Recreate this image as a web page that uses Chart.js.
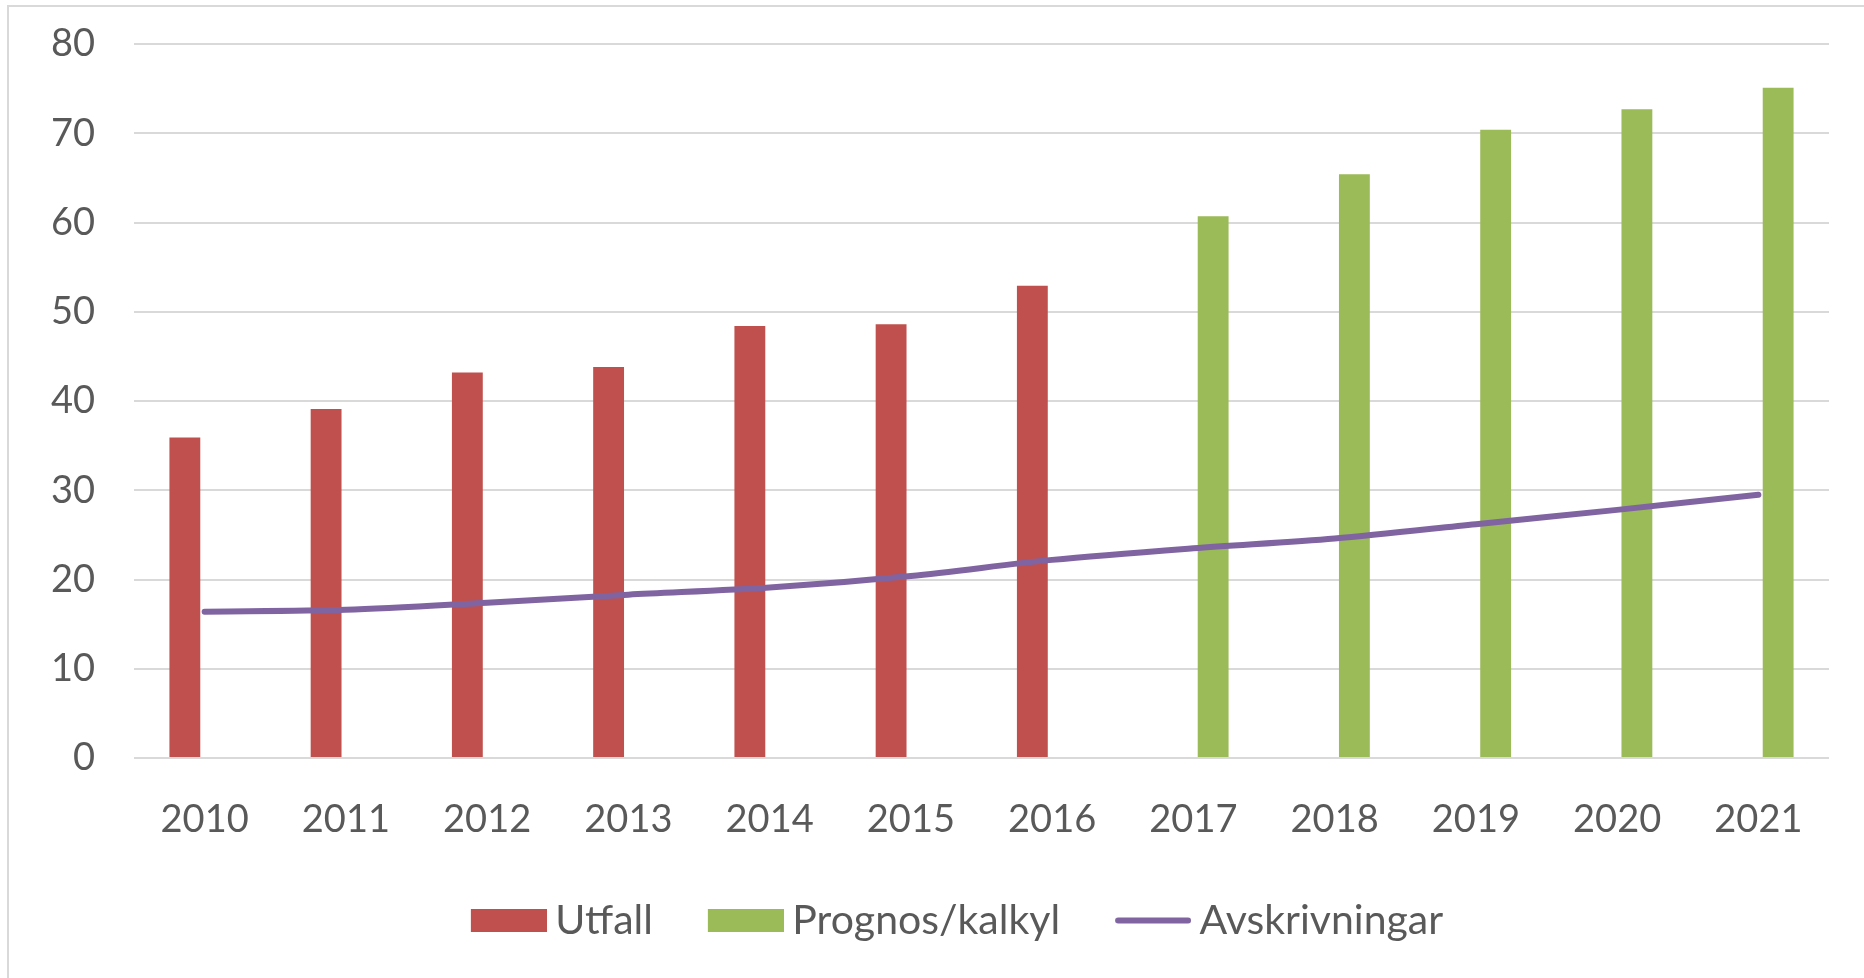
<!DOCTYPE html>
<html lang="sv">
<head>
    <meta charset="UTF-8">
    <title>Utfall och prognos</title>
    <script src="https://cdn.jsdelivr.net/npm/chart.js"></script>
    <style>
        html, body {
            margin: 0;
            padding: 0;
            background: #ffffff;
            overflow: hidden;
        }
        .ram {
            position: absolute;
            left: 7px;
            top: 5px;
            width: 1900px;
            height: 1000px;
            border-left: 2px solid #d9d9d9;
            border-top: 2px solid #d9d9d9;
        }
        #diagram {
            position: absolute;
            left: 0;
            top: 0;
        }
    </style>
</head>
<body>
    <div class="ram"></div>
    <canvas id="diagram" width="1864" height="978"></canvas>

    <script>
        // Data (läst ur diagrammet)
        var ar = ['2010', '2011', '2012', '2013', '2014', '2015', '2016', '2017', '2018', '2019', '2020', '2021'];
        var utfall = [35.9, 39.1, 43.2, 43.8, 48.4, 48.6, 52.9, null, null, null, null, null];
        var prognos = [null, null, null, null, null, null, null, 60.7, 65.4, 70.4, 72.7, 75.1];
        var avskrivningar = [16.4, 16.6, 17.4, 18.3, 19.1, 20.4, 22.2, 23.5, 24.6, 26.2, 27.8, 29.5];
        var yTicks = [0, 10, 20, 30, 40, 50, 60, 70, 80];

        var rod = '#c0504d';
        var gron = '#9bbb59';
        var lila = '#8064a2';
        var gra = '#595959';

        // Legendsymboler
        function ruta(farg) {
            var c = document.createElement('canvas');
            c.width = 88; c.height = 23;
            var g = c.getContext('2d');
            g.fillStyle = farg;
            g.fillRect(12, 0, 76, 23);
            return c;
        }
        function linje(farg) {
            var c = document.createElement('canvas');
            c.width = 88; c.height = 23;
            var g = c.getContext('2d');
            g.strokeStyle = farg;
            g.lineWidth = 6;
            g.lineCap = 'round';
            g.beginPath();
            g.moveTo(15, 11.5);
            g.lineTo(85, 11.5);
            g.stroke();
            return c;
        }
        var symboler = [ruta(rod), ruta(gron), linje(lila)];

        var ctx = document.getElementById('diagram').getContext('2d');
        var diagram = new Chart(ctx, {
            data: {
                labels: ar,
                datasets: [{
                    type: 'bar',
                    label: 'Utfall',
                    data: utfall,
                    backgroundColor: rod,
                    categoryPercentage: 0.56,
                    barPercentage: 0.78,
                    order: 1
                }, {
                    type: 'bar',
                    label: 'Prognos/kalkyl',
                    data: prognos,
                    backgroundColor: gron,
                    categoryPercentage: 0.56,
                    barPercentage: 0.78,
                    order: 1
                }, {
                    type: 'line',
                    label: 'Avskrivningar',
                    data: avskrivningar,
                    borderColor: lila,
                    backgroundColor: lila,
                    borderWidth: 6,
                    borderCapStyle: 'round',
                    tension: 0.3,
                    pointRadius: 0,
                    fill: false,
                    order: 0
                }]
            },
            options: {
                responsive: false,
                animation: false,
                devicePixelRatio: 1,
                layout: {
                    padding: { left: 85, right: 35, top: 44, bottom: 27 }
                },
                scales: {
                    x: {
                        grid: { display: false },
                        border: { display: false },
                        ticks: {
                            color: gra,
                            padding: 31,
                            font: { family: 'Lato', size: 38 }
                        },
                        afterFit: function (s) { s.height = 87; }
                    },
                    y: {
                        min: 0,
                        max: 80,
                        afterBuildTicks: function (s) {
                            s.ticks = yTicks.map(function (v) { return { value: v }; });
                        },
                        grid: { color: '#d9d9d9', lineWidth: 2, drawTicks: false },
                        border: { display: false },
                        // mirror + far: högerjusterade etiketter utan klippning
                        ticks: {
                            color: gra,
                            mirror: true,
                            crossAlign: 'far',
                            padding: -83,
                            font: { family: 'Lato', size: 38 }
                        },
                        afterFit: function (s) { s.width = 49; }
                    }
                },
                plugins: {
                    tooltip: { enabled: false },
                    legend: {
                        position: 'bottom',
                        labels: {
                            color: gra,
                            font: { family: 'Lato', size: 41 },
                            usePointStyle: true,
                            pointStyleWidth: 64,
                            boxHeight: 23,
                            padding: 55,
                            sort: function (a, b) { return a.datasetIndex - b.datasetIndex; },
                            generateLabels: function (chart) {
                                var items = Chart.defaults.plugins.legend.labels.generateLabels(chart);
                                items.forEach(function (it) { it.pointStyle = symboler[it.datasetIndex]; });
                                return items;
                            }
                        }
                    }
                }
            }
        });
    </script>
</body>
</html>
